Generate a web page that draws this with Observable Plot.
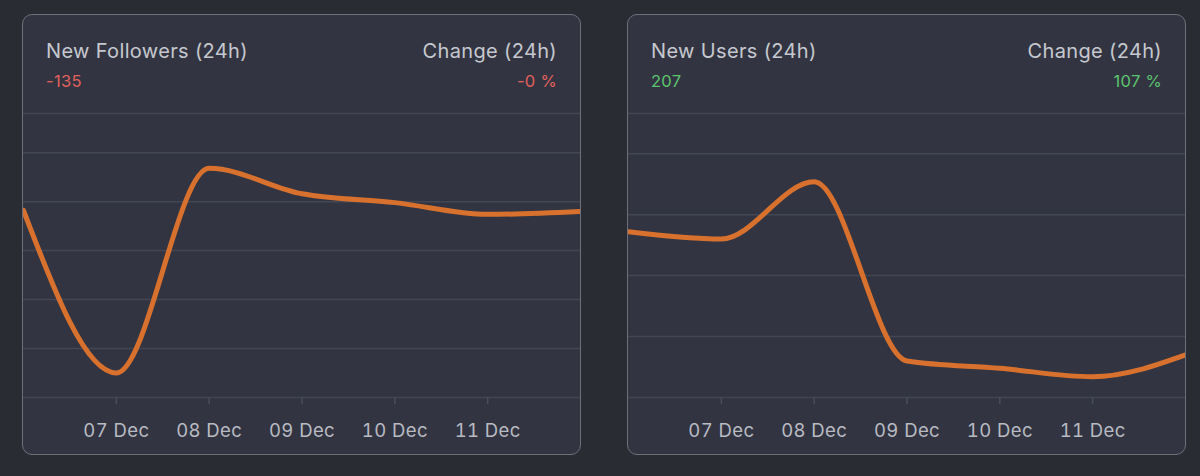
<!DOCTYPE html>
<html>
<head>
<meta charset="utf-8">
<script src="https://cdn.jsdelivr.net/npm/d3@7"></script>
<script src="https://cdn.jsdelivr.net/npm/@observablehq/plot@0.6"></script>
<style>
  html, body { margin: 0; padding: 0; background: #2a2c33; width: 1200px; height: 476px; overflow: hidden; }
  body { position: relative; font-family: Inter, "Open Sans", sans-serif; }
  .card { position: absolute; top: 14px; width: 557px; height: 439px; background: #323541; border: 1.5px solid #6e7079; border-radius: 10px; overflow: hidden; }
  .title { position: absolute; top: 24px; font-size: 20px; color: #c6c8cf; letter-spacing: 0.35px; }
  .val { position: absolute; top: 56px; font-size: 16.5px; letter-spacing: 0.3px; }
  .left { left: 23px; }
  .right { right: 23px; text-align: right; }
  .chart { position: absolute; left: 0; top: 98px; }
  .neg { color: #e2605b; }
  .pos { color: #5dc46e; }
</style>
</head>
<body>
<div class="card" id="c1" style="left:22px">
  <div class="title left">New Followers (24h)</div>
  <div class="title right">Change (24h)</div>
  <div class="val left neg" id="v1"></div>
  <div class="val right neg" id="p1"></div>
  <div class="chart" id="ch1"></div>
</div>
<div class="card" id="c2" style="left:627px">
  <div class="title left">New Users (24h)</div>
  <div class="title right">Change (24h)</div>
  <div class="val left pos" id="v2"></div>
  <div class="val right pos" id="p2"></div>
  <div class="chart" id="ch2"></div>
</div>
<script>
// Data
const dates = ["2023-12-06", "2023-12-07", "2023-12-08", "2023-12-09", "2023-12-10", "2023-12-11", "2023-12-12"];
const followers = [191, 25, 234, 208, 199, 187, 190];
const users = [136, 130, 177, 30, 24, 17, 35];
const tickDates = ["2023-12-07", "2023-12-08", "2023-12-09", "2023-12-10", "2023-12-11"];
const followersGrid = [0, 50, 100, 150, 200, 250, 290];
const usersGrid = [0, 50, 100, 150, 200, 233];
const summary = {followers: {value: "-135", change: "-0 %"}, users: {value: "207", change: "107 %"}};

document.getElementById("v1").textContent = summary.followers.value;
document.getElementById("p1").textContent = summary.followers.change;
document.getElementById("v2").textContent = summary.users.value;
document.getElementById("p2").textContent = summary.users.change;

function chart(values, grid) {
  const data = dates.map((d, i) => ({date: new Date(d + "T00:00:00Z"), value: values[i]}));
  const ticks = tickDates.map(d => new Date(d + "T00:00:00Z"));
  return Plot.plot({
    width: 557,
    height: 335,
    marginTop: 0,
    marginBottom: 51,
    marginLeft: 0,
    marginRight: 0,
    style: {background: "transparent", fontFamily: "Inter, 'Open Sans', sans-serif", fontSize: "18.5px", letterSpacing: "0.4px", color: "#b9bbc3", overflow: "visible"},
    x: {type: "utc", domain: [data[0].date, data[data.length - 1].date], label: null},
    y: {domain: [grid[0], grid[grid.length - 1]], axis: null},
    marks: [
      Plot.ruleY(grid, {stroke: "#434754", strokeWidth: 1.5, strokeOpacity: 1}),
      Plot.axisX({ticks, tickFormat: d3.utcFormat("%d %b"), tickSize: 7, tickPadding: 19, stroke: "#4a4e5a", strokeWidth: 1.5, fill: "#b9bbc3", label: null}),
      Plot.line(data, {x: "date", y: "value", stroke: "#d8712e", strokeWidth: 5, curve: "monotone-x"})
    ]
  });
}
document.getElementById("ch1").appendChild(chart(followers, followersGrid));
document.getElementById("ch2").appendChild(chart(users, usersGrid));
</script>
</body>
</html>
